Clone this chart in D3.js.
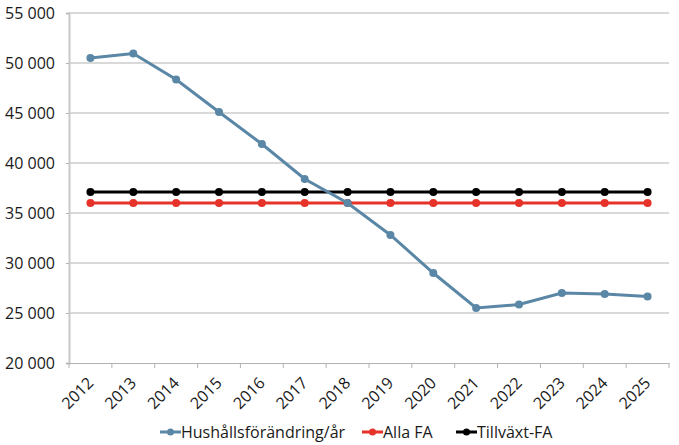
<!DOCTYPE html>
<html>
<head>
<meta charset="utf-8">
<script src="https://cdn.jsdelivr.net/npm/d3@7"></script>
<style>
  body { margin: 0; background: #fff; }
  svg text { font-family: "Open Sans", sans-serif; fill: #1a1a1a; }
</style>
</head>
<body>
<script>
const years = ["2012","2013","2014","2015","2016","2017","2018","2019","2020","2021","2022","2023","2024","2025"];
const hushall = [50500, 50950, 48350, 45100, 41900, 38400, 36000, 32800, 29000, 25500, 25850, 27000, 26900, 26650];
const allaFA = [36000, 36000, 36000, 36000, 36000, 36000, 36000, 36000, 36000, 36000, 36000, 36000, 36000, 36000];
const tillvaxtFA = [37100, 37100, 37100, 37100, 37100, 37100, 37100, 37100, 37100, 37100, 37100, 37100, 37100, 37100];
const yTicks = [20000, 25000, 30000, 35000, 40000, 45000, 50000, 55000];

const seriesList = [
  { name: "Hushållsförändring/år", values: hushall, color: "#5b87a6" },
  { name: "Alla FA", values: allaFA, color: "#e63228" },
  { name: "Tillväxt-FA", values: tillvaxtFA, color: "#000000" }
];

const w = 679, h = 445;
const plotLeft = 69, plotRight = 669, plotTop = 13, plotBottom = 363;

const svg = d3.select("body").append("svg")
  .attr("width", w)
  .attr("height", h);

const x = d3.scaleBand().domain(years).range([plotLeft, plotRight]);
const y = d3.scaleLinear().domain([20000, 55000]).range([plotBottom, plotTop]);

const fmt = (v) => d3.format(",")(v).replace(/,/g, " ");

// grid
svg.append("g")
  .selectAll("line")
  .data(yTicks.slice(1))
  .enter()
  .append("line")
  .attr("x1", plotLeft).attr("x2", plotRight)
  .attr("y1", (d) => y(d)).attr("y2", (d) => y(d))
  .attr("stroke", "#b3b3b3")
  .attr("stroke-width", 1);

// y axis
const yAxis = svg.append("g")
  .attr("transform", `translate(${plotLeft},0)`)
  .call(d3.axisLeft(y).tickValues(yTicks).tickFormat(fmt).tickSize(3).tickPadding(11));
yAxis.select(".domain").attr("stroke", "#c8c8c8").attr("stroke-width", 2);
yAxis.selectAll(".tick line").attr("stroke", "#b3b3b3");
yAxis.selectAll(".tick text").attr("font-size", 16).attr("fill", "#1a1a1a");

// x axis
const xAxis = svg.append("g")
  .attr("transform", `translate(0,${plotBottom})`)
  .call(d3.axisBottom(x).tickSize(0).tickPadding(0));
xAxis.select(".domain").attr("stroke", "#b3b3b3").attr("stroke-width", 1);
xAxis.selectAll(".tick text")
  .attr("font-size", 16)
  .attr("fill", "#1a1a1a")
  .attr("text-anchor", "end")
  .attr("dy", 0)
  .attr("transform", "translate(4,21) rotate(-45)");

// boundary ticks
const bounds = years.map((d) => x(d)).concat([plotRight]);
svg.append("g")
  .selectAll("line")
  .data(bounds)
  .enter()
  .append("line")
  .attr("x1", (d) => d).attr("x2", (d) => d)
  .attr("y1", plotBottom).attr("y2", plotBottom + 5)
  .attr("stroke", "#b3b3b3");

// series
const cx = (i) => x(years[i]) + x.bandwidth() / 2;
const line = d3.line().x((d, i) => cx(i)).y((d) => y(d));

seriesList.slice().reverse().forEach((s) => {
  const g = svg.append("g");
  g.append("path")
    .datum(s.values)
    .attr("d", line)
    .attr("fill", "none")
    .attr("stroke", s.color)
    .attr("stroke-width", 3);
  g.selectAll("circle")
    .data(s.values)
    .enter()
    .append("circle")
    .attr("cx", (d, i) => cx(i))
    .attr("cy", (d) => y(d))
    .attr("r", 4)
    .attr("fill", s.color);
});

// legend
const legendX = [160, 362, 456];
const legend = svg.append("g");
seriesList.forEach((s, i) => {
  const g = legend.append("g").attr("transform", `translate(${legendX[i]},432)`);
  g.append("line")
    .attr("x1", 0).attr("x2", 21)
    .attr("stroke", s.color).attr("stroke-width", 3);
  g.append("circle").attr("cx", 10.5).attr("r", 3.5).attr("fill", s.color);
  g.append("text")
    .attr("x", 21)
    .attr("dy", "0.35em")
    .attr("font-size", 16)
    .text(s.name);
});
</script>
</body>
</html>
